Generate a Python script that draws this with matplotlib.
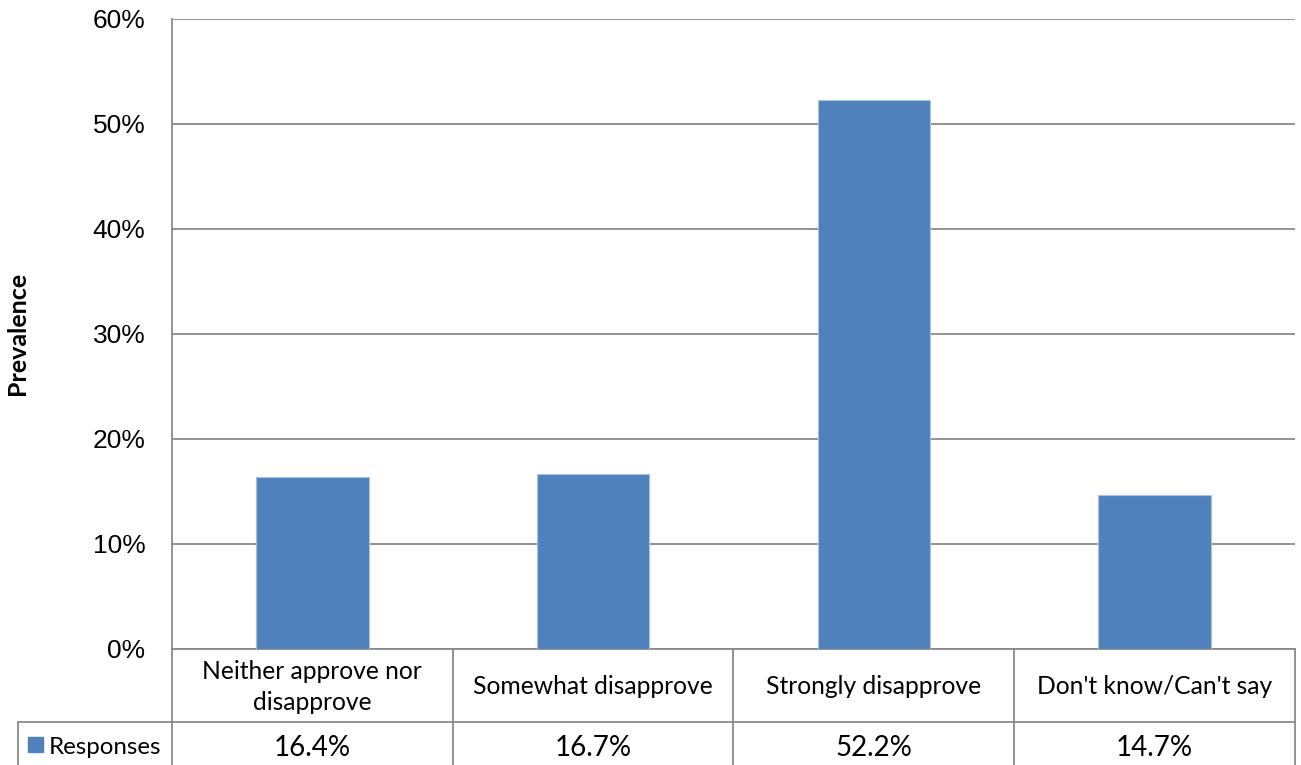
import matplotlib
matplotlib.use("Agg")
import matplotlib.pyplot as plt
import matplotlib.transforms as mtransforms
from matplotlib.patches import Rectangle
import numpy as np

categories = ["Neither approve nor\ndisapprove", "Somewhat disapprove",
              "Strongly disapprove", "Don't know/Can't say"]
values = [16.4, 16.7, 52.2, 14.7]
series_name = "Responses"
y_ticks = [0, 10, 20, 30, 40, 50, 60]
y_label = "Prevalence"

BAR = "#4F81BD"
GRID = "#8a8a8a"
TFONT = "Lato"

W, H = 1301, 765
fig = plt.figure(figsize=(W / 100, H / 100), dpi=100)
L, R, T, B = 172, 1295, 18.5, 649
ax = fig.add_axes([L / W, (H - B) / H, (R - L) / W, (B - T) / H])

x = np.arange(len(categories))
ax.bar(x, values, width=0.4, color=BAR, edgecolor="#a9c0de", linewidth=0.8, zorder=3)
ax.set_xlim(-0.5, len(categories) - 0.5)
ax.set_ylim(0, 60)
ax.set_yticks(y_ticks)
ax.set_yticklabels([f"{t}%" for t in y_ticks], fontfamily="Liberation Sans", fontsize=19)
ax.tick_params(axis="y", length=0, pad=19)
ax.set_xticks([])
ax.yaxis.grid(True, color=GRID, linewidth=1.3, zorder=0)
for s in ["top", "right"]:
    ax.spines[s].set_visible(False)
for s in ["left", "bottom"]:
    ax.spines[s].set_color(GRID)
    ax.spines[s].set_linewidth(1.3)
ax.set_axisbelow(True)

fig.text(17.5 / W, 1 - ((T + B) / 2) / H, y_label, rotation=90, ha="center", va="center",
         fontsize=18, fontweight="bold", fontfamily=TFONT)

# data table
ah = B - T
aw = R - L
row1 = -(722 - B) / ah
row2 = -0.3
leg_left = (18 - L) / aw
blend = mtransforms.blended_transform_factory(ax.transData, ax.transAxes)
lkw = dict(color=GRID, linewidth=1.3, clip_on=False)
for b in np.arange(len(categories) + 1) - 0.5:
    ax.plot([b, b], [0, row2], transform=blend, **lkw)
ax.plot([leg_left, 1], [row1, row1], transform=ax.transAxes, **lkw)
ax.plot([leg_left, leg_left], [row1, row2], transform=ax.transAxes, **lkw)

for i, c in enumerate(categories):
    ax.text(i, -(687 - B) / ah, c, transform=blend, ha="center", va="center",
            fontsize=17.7, fontfamily=TFONT, linespacing=1.4)
    ax.text(i, -(748 - B) / ah, f"{values[i]:.1f}%", transform=blend, ha="center",
            va="center", fontsize=20, fontfamily=TFONT)

ax.add_patch(Rectangle(((28 - L) / aw, -(752 - B) / ah), 15 / aw, 15 / ah,
                       transform=ax.transAxes, color=BAR, clip_on=False))
ax.text((49 - L) / aw, -(748 - B) / ah, series_name, transform=ax.transAxes,
        ha="left", va="center", fontsize=17.4, fontfamily=TFONT)

fig.savefig("out.png", dpi=100)
